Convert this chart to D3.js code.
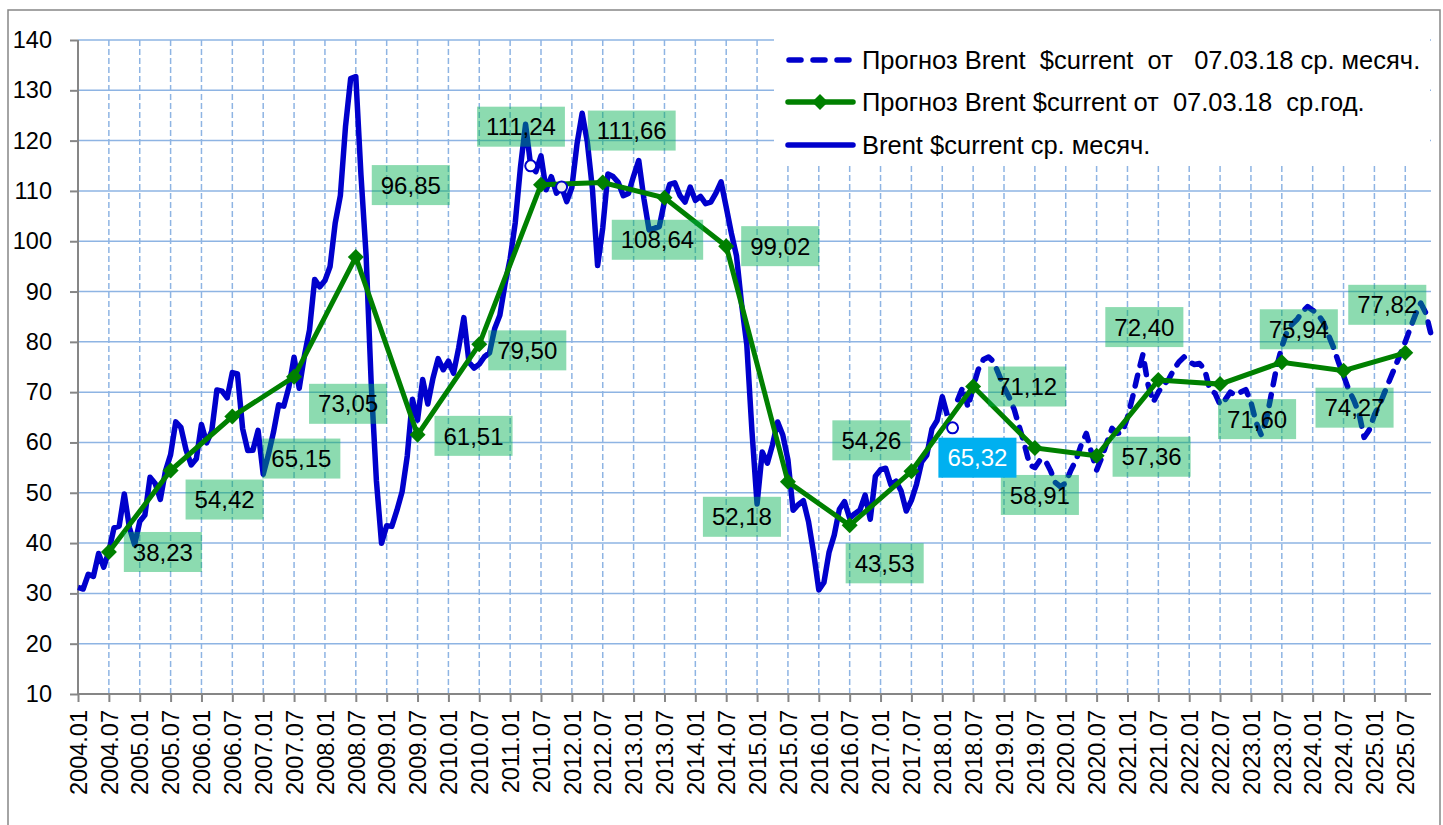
<!DOCTYPE html>
<html>
<head>
<meta charset="utf-8">
<script src="https://cdn.jsdelivr.net/npm/d3@7"></script>
<style>
body { margin: 0; background: #fff; }
svg text { font-family: "Liberation Sans", Arial, sans-serif; }
</style>
</head>
<body>
<div id="chart-area"></div>
<script>
var years = [2004, 2005, 2006, 2007, 2008, 2009, 2010, 2011, 2012, 2013, 2014,
    2015, 2016, 2017, 2018, 2019, 2020, 2021, 2022, 2023, 2024, 2025];
var monthNums = ["01", "02", "03", "04", "05", "06", "07", "08", "09", "10", "11", "12"];
var yTicks = [10, 20, 30, 40, 50, 60, 70, 80, 90, 100, 110, 120, 130, 140];

// Brent $current monthly, 2004.01 - 2018.02
var actualStart = "2004.01";
var actual = [
    31.18, 30.87, 33.80, 33.36, 37.92, 35.19, 38.37, 43.03, 43.38, 49.77, 43.05, 39.66,
    44.28, 45.56, 53.08, 51.86, 48.67, 54.31, 57.58, 64.09, 62.98, 58.52, 55.53, 56.75,
    63.57, 59.92, 62.25, 70.44, 70.19, 68.86, 73.90, 73.61, 62.77, 58.38, 58.46, 62.41,
    53.68, 57.56, 62.05, 67.49, 67.21, 71.05, 76.93, 70.76, 77.17, 82.34, 92.41, 90.93,
    92.18, 94.99, 103.64, 109.07, 122.80, 132.32, 132.72, 113.24, 97.23, 71.58, 52.45, 39.95,
    43.44, 43.32, 46.54, 50.18, 57.30, 68.61, 64.44, 72.51, 67.65, 72.77, 76.66, 74.46,
    76.17, 73.75, 78.83, 84.82, 75.95, 74.76, 75.58, 77.04, 77.84, 82.67, 85.28, 91.45,
    96.52, 103.72, 114.64, 123.26, 114.99, 113.83, 116.97, 110.22, 112.83, 109.55, 110.77, 107.87,
    110.69, 119.33, 125.45, 119.75, 110.34, 95.16, 102.62, 113.36, 112.86, 111.71, 109.06, 109.49,
    112.96, 116.05, 108.47, 102.25, 102.56, 102.92, 107.93, 111.28, 111.60, 109.08, 107.79, 110.76,
    108.12, 108.90, 107.48, 107.76, 109.54, 111.80, 106.77, 101.61, 97.09, 87.43, 79.44, 62.34,
    47.76, 58.10, 55.89, 59.52, 64.08, 61.48, 56.56, 46.52, 47.62, 48.43, 44.27, 38.01,
    30.70, 32.18, 38.21, 41.58, 46.74, 48.25, 44.95, 45.84, 46.57, 49.52, 44.73, 53.31,
    54.58, 54.87, 51.59, 52.31, 50.33, 46.37, 48.48, 51.70, 56.15, 57.51, 62.71, 64.37,
    69.08, 65.32
];

// forecast 07.03.18, monthly, 2018.04 - 2025.12
var forecastStart = "2018.04";
var forecast = [
    68.5, 71.0, 67.0, 71.0, 74.5, 76.5, 77.0, 76.0, 73.5,
    71.0, 69.0, 66.5, 63.0, 59.5, 55.5, 55.0, 56.5, 56.5, 54.5, 52.0, 51.2,
    52.0, 54.5, 56.5, 59.5, 61.8, 58.0, 54.5, 57.0, 60.0, 62.8, 61.8, 62.0,
    65.0, 69.0, 73.5, 77.5, 71.5, 68.0, 70.0, 71.5, 72.5, 74.5, 76.0, 77.0,
    76.0, 75.5, 75.7, 74.5, 70.5, 69.8, 67.5, 68.5, 70.0, 69.4, 70.0, 70.5,
    68.0, 64.0, 61.5, 64.5, 69.8, 75.0, 79.0, 82.0, 83.5, 84.5, 86.0, 87.0,
    86.3, 85.5, 84.0, 81.5, 79.0, 76.0, 73.3, 70.5, 68.4, 65.8, 61.0, 62.5,
    65.5, 67.5, 70.0, 72.5, 75.0, 77.5, 80.0, 82.8, 85.5, 87.7, 85.7, 81.5
];

// forecast 07.03.18, yearly average (placed on July)
var yearAvg = [38.23, 54.42, 65.15, 73.05, 96.85, 61.51, 79.50, 111.24, 111.66, 108.64, 99.02,
    52.18, 43.53, 54.26, 71.12, 58.91, 57.36, 72.40, 71.60, 75.94, 74.27, 77.82];

// points drawn with a hollow marker
var markedPoints = [
    { month: "2011.05", value: 114.99, fill: "#fff" },
    { month: "2011.11", value: 110.77, fill: "#eee" },
    { month: "2018.03", value: 62.9, fill: "#fff" }
];
var lastActual = { month: "2018.02", value: 65.32 };

var legendLabels = [
    "Прогноз Brent  $current  от   07.03.18 ср. месяч.",
    "Прогноз Brent $current от  07.03.18  ср.год.",
    "Brent $current ср. месяч."
];

// label placement (dx, dy from the point), style only
var labelOffsets = [[54, 0], [54, 29], [69, 42], [54, 27], [55, -72], [56, 1], [48, 6],
    [-20, -58], [29, -52], [-7, 42], [54, 0], [-46, 35], [35, 38], [-40, -31], [54, 0],
    [5, 47], [55, 1], [-14, -53], [37, 35], [17, -33], [11, 37], [-18, -48]];

var months = [];
years.forEach(y => monthNums.forEach(m => months.push(y + "." + m)));
var xTicks = months.filter(m => m.endsWith(".01") || m.endsWith(".07"));

var W = 1443, H = 825;
var plotL = 78, plotR = 1431, plotT = 40, plotB = 694;
var blue = "#0000cc", green = "#008000", grid = "#8eb4e3", axisGray = "#868686";

var svg = d3.select("#chart-area")
    .append("svg")
    .attr("width", W)
    .attr("height", H);

svg.append("rect")
    .attr("x", 8).attr("y", 10)
    .attr("width", 1432).attr("height", 830)
    .attr("fill", "#fff")
    .attr("stroke", axisGray)
    .attr("stroke-width", 1.5);

var x = d3.scalePoint().domain(months).range([plotL, plotR]);
var y = d3.scaleLinear().domain([10, 140]).range([plotB, plotT]);

// gridlines
svg.append("g").selectAll("line")
    .data(yTicks.filter(t => t > 10))
    .enter().append("line")
    .attr("x1", plotL).attr("x2", plotR)
    .attr("y1", d => y(d)).attr("y2", d => y(d))
    .attr("stroke", grid).attr("stroke-width", 1.5);

svg.append("g").selectAll("line")
    .data(xTicks.slice(1))
    .enter().append("line")
    .attr("x1", d => x(d)).attr("x2", d => x(d))
    .attr("y1", plotT).attr("y2", plotB)
    .attr("stroke", grid).attr("stroke-width", 1.5)
    .attr("stroke-dasharray", "6,3");

// axes
var yAxis = svg.append("g")
    .attr("transform", "translate(" + plotL + ",0)")
    .call(d3.axisLeft(y).tickValues(yTicks).tickSize(8).tickPadding(18));
var xAxis = svg.append("g")
    .attr("transform", "translate(0," + plotB + ")")
    .call(d3.axisBottom(x).tickValues(xTicks).tickSize(8).tickPadding(0));

[yAxis, xAxis].forEach(g => {
    g.select(".domain").attr("stroke", axisGray).attr("stroke-width", 2);
    g.selectAll(".tick line").attr("stroke", axisGray).attr("stroke-width", 2);
    g.selectAll("text").attr("fill", "#000").style("font-size", "23.5px");
});
yAxis.select(".domain").attr("d", "M0," + plotB + "V" + plotT);
xAxis.select(".domain").attr("d", "M" + plotL + ",0H" + plotR);
xAxis.selectAll("text")
    .attr("transform", "rotate(-90)")
    .attr("text-anchor", "end")
    .attr("x", -16).attr("y", 0)
    .attr("dy", "0.35em");

// series
var line = d3.line().x(d => x(d.month)).y(d => y(d.value));
var i0 = months.indexOf(actualStart);
var actualData = actual.map((v, i) => ({ month: months[i0 + i], value: v }));
var f0 = months.indexOf(forecastStart);
var forecastData = forecast.map((v, i) => ({ month: months[f0 + i], value: v }));
var yearData = yearAvg.map((v, i) => ({ month: years[i] + ".07", value: v }));

svg.append("path")
    .datum(forecastData)
    .attr("d", line)
    .attr("fill", "none")
    .attr("stroke", blue)
    .attr("stroke-width", 5.5)
    .attr("stroke-dasharray", "11,10")
    .attr("stroke-linecap", "round")
    .attr("stroke-linejoin", "round");

svg.append("path")
    .datum(actualData)
    .attr("d", line)
    .attr("fill", "none")
    .attr("stroke", blue)
    .attr("stroke-width", 5.5)
    .attr("stroke-linejoin", "round");

svg.append("path")
    .datum(yearData)
    .attr("d", line)
    .attr("fill", "none")
    .attr("stroke", green)
    .attr("stroke-width", 5);

var diamond = "M0,-8L8,0L0,8L-8,0Z";
svg.append("g").selectAll("path")
    .data(yearData)
    .enter().append("path")
    .attr("d", diamond)
    .attr("transform", d => "translate(" + x(d.month) + "," + y(d.value) + ")")
    .attr("fill", green);

svg.append("g").selectAll("circle")
    .data(markedPoints)
    .enter().append("circle")
    .attr("cx", d => x(d.month))
    .attr("cy", d => y(d.value))
    .attr("r", 5.5)
    .attr("fill", d => d.fill)
    .attr("stroke", blue)
    .attr("stroke-width", 2);

// data labels
function addLabel(g, px, py, text, bg, opacity, color) {
    var t = g.append("text")
        .attr("x", px).attr("y", py)
        .attr("text-anchor", "middle")
        .attr("dy", "0.36em")
        .attr("fill", color)
        .style("font-size", "24px")
        .text(text);
    var w = t.node().getComputedTextLength() + 18;
    g.insert("rect", "text")
        .attr("x", px - w / 2).attr("y", py - 20)
        .attr("width", w).attr("height", 40)
        .attr("fill", bg)
        .attr("fill-opacity", opacity);
}

var fmt = v => d3.format(".2f")(v).replace(".", ",");
yearData.forEach((d, i) => {
    var g = svg.append("g");
    addLabel(g, x(d.month) + labelOffsets[i][0], y(d.value) + labelOffsets[i][1],
        fmt(d.value), "#00b050", 0.45, "#000");
});
addLabel(svg.append("g"), x(lastActual.month) + 30, y(lastActual.value) + 42,
    fmt(lastActual.value), "#00b0f0", 1, "#fff");

// legend
var legend = svg.append("g");
legend.append("rect")
    .attr("x", 774).attr("y", 38)
    .attr("width", 656).attr("height", 128)
    .attr("fill", "#fff");

var legendRows = [60, 102, 145];
legendRows.forEach((ly, i) => {
    var sample = legend.append("line")
        .attr("x1", 788).attr("x2", 853)
        .attr("y1", ly).attr("y2", ly)
        .attr("stroke", i == 1 ? green : blue)
        .attr("stroke-width", 5.5)
        .attr("stroke-linecap", "round");
    if (i == 0) sample.attr("stroke-dasharray", "12,12").attr("x1", 789);
    if (i == 1) {
        legend.append("path")
            .attr("d", diamond)
            .attr("transform", "translate(820," + ly + ")")
            .attr("fill", green);
    }
    legend.append("text")
        .attr("x", 862).attr("y", ly)
        .attr("dy", "0.36em")
        .style("font-size", "25.5px")
        .style("white-space", "pre")
        .text(legendLabels[i]);
});
</script>
</body>
</html>
